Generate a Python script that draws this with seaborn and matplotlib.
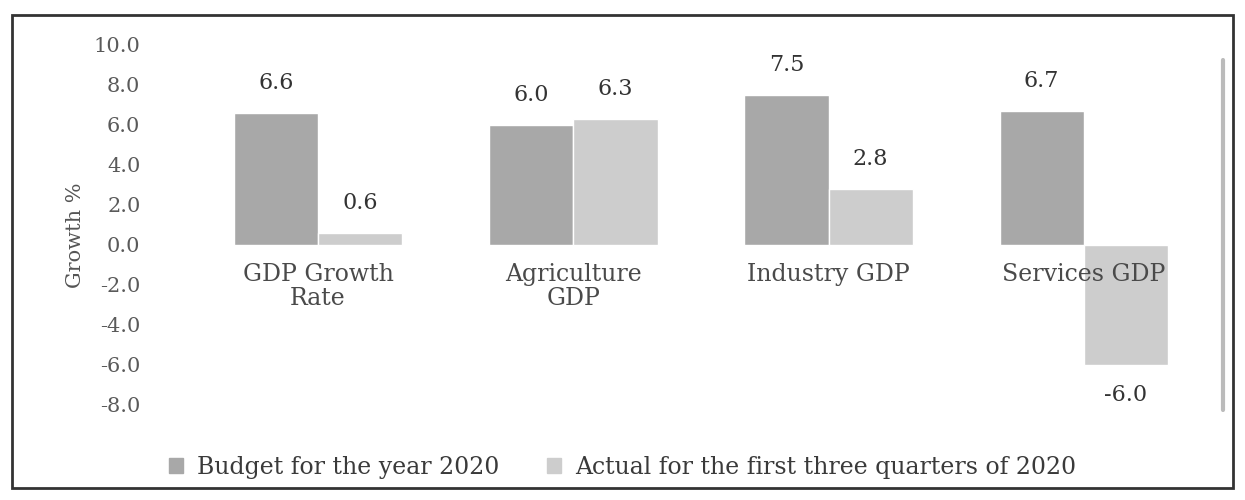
import numpy as np
import pandas as pd
import matplotlib
matplotlib.use("Agg")
import matplotlib.pyplot as plt
import seaborn as sns
from matplotlib.patches import Rectangle
from matplotlib.lines import Line2D

# --- Data ---
categories = ["GDP Growth\nRate", "Agriculture\nGDP", "Industry GDP", "Services GDP"]
series_names = ["Budget for the year 2020", "Actual for the first three quarters of 2020"]
budget = [6.6, 6.0, 7.5, 6.7]
actual = [0.6, 6.3, 2.8, -6.0]
y_ticks = [-8, -6, -4, -2, 0, 2, 4, 6, 8, 10]

df = pd.DataFrame({
    "category": categories * 2,
    "series": [series_names[0]] * 4 + [series_names[1]] * 4,
    "value": budget + actual,
})

# --- Plotting ---
sns.set_style("white")
plt.rcParams["font.family"] = ["DejaVu Serif"]

fig = plt.figure(figsize=(12.45, 5), dpi=100)
ax = fig.add_axes([0.153, 0.15, 0.82, 0.76])

palette = ["#a8a8a8", "#cdcdcd"]
sns.barplot(data=df, x="category", y="value", hue="series", palette=palette,
            width=0.66, ax=ax, legend=False, saturation=1)

ax.set_ylim(-9, 10)
ax.set_xlim(-0.5, 3.5)
ax.set_yticks(y_ticks)
ax.set_yticklabels([f"{t:.1f}" for t in y_ticks], fontsize=15, color="#5a5a5a")
ax.tick_params(axis="y", length=0, pad=36)
ax.set_xticks([])
ax.set_xlabel("")
ax.set_ylabel("Growth %", fontsize=15, color="#555555", labelpad=6)
for s in ax.spines.values():
    s.set_visible(False)

# value labels
for cont in ax.containers:
    ax.bar_label(cont, labels=[f"{v:.1f}" for v in cont.datavalues],
                 padding=14, fontsize=16, color="#333333")

# category labels near zero line
for i, c in enumerate(categories):
    ax.text(i, -0.9, c, ha="center", va="top", fontsize=17, color="#4a4a4a",
            linespacing=1.05)

# legend
handles = [Rectangle((0, 0), 1, 1, color=p) for p in palette]
fig.legend(handles, series_names, loc="center", bbox_to_anchor=(0.5, 0.065),
           ncol=2, frameon=False, fontsize=17, handlelength=0.6, handleheight=0.6,
           columnspacing=2.0, handletextpad=0.6, labelcolor="#3a3a3a")

# outer border and right edge line
fig.add_artist(Rectangle((0.01, 0.025), 0.98, 0.945, transform=fig.transFigure,
                         fill=False, edgecolor="#333333", linewidth=2))
fig.add_artist(Line2D([0.982, 0.982], [0.18, 0.88], transform=fig.transFigure,
                      color="#bbbbbb", linewidth=3))

fig.savefig("out.png", dpi=100)
